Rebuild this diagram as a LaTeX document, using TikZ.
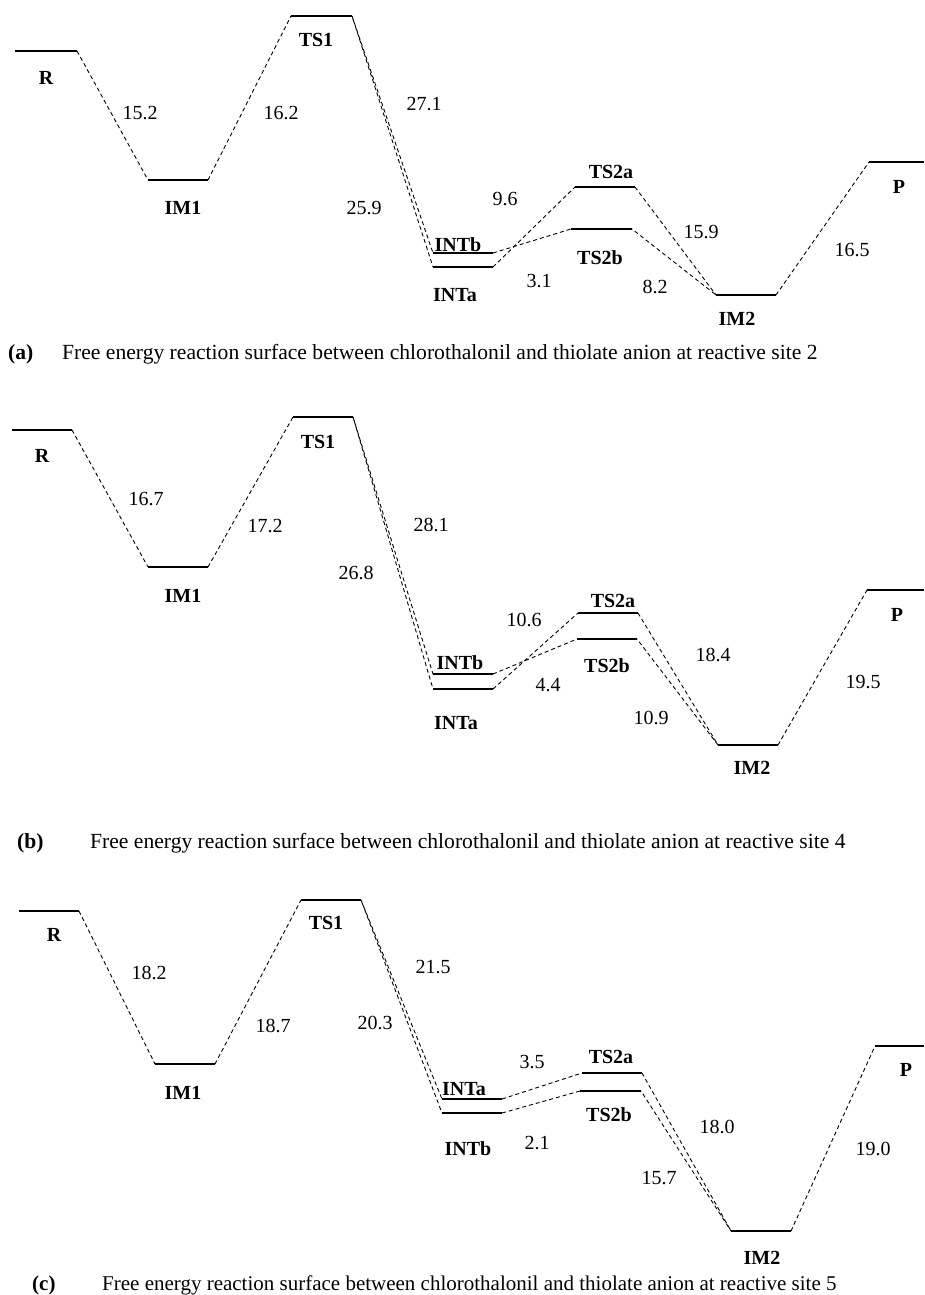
\documentclass[tikz,border=0pt]{standalone}
\usepackage{fontspec}
\setmainfont{Liberation Serif}

% livello energetico: nome, x1, x2, y
\newcommand{\livello}[4]{%
  \coordinate (#1-l) at (#2,#4);
  \coordinate (#1-r) at (#3,#4);
  \draw[livello] (#1-l) -- (#1-r);}

\begin{document}
\begin{tikzpicture}[x=1pt, y=-1pt,
    livello/.style={line width=1.1pt},
    tratto/.style={line width=0.9pt, dash pattern=on 4pt off 3pt},
    tratto2/.style={tratto, dash phase=3.5pt},
    stato/.style={font=\fontsize{20}{24}\selectfont\bfseries, inner sep=0pt},
    valore/.style={font=\fontsize{20}{24}\selectfont, inner sep=0pt},
    didascalia/.style={font=\fontsize{21.6}{26}\selectfont, inner sep=0pt, anchor=base west},
    lettera/.style={didascalia, font=\fontsize{21.6}{26}\selectfont\bfseries}]
    \useasboundingbox (0,0) rectangle (924,1295);

    % ---------- (a) sito 2 ----------
    % Livelli
    \livello{aR}{15}{77}{51}
    \livello{aIM1}{148}{208}{180}
    \livello{aTS1}{291}{352}{16}
    \livello{aINTb}{433}{493}{253}
    \livello{aINTa}{433}{493}{267}
    \livello{aTS2a}{575}{635}{187}
    \livello{aTS2b}{571}{632}{229}
    \livello{aIM2}{716}{776}{295}
    \livello{aP}{869}{924}{162}

    % Collegamenti
    \draw[tratto] (aR-r) -- (aIM1-l);
    \draw[tratto] (aIM1-r) -- (aTS1-l);
    \draw[tratto] (aTS1-r) -- (aINTb-l);
    \draw[tratto2] (aTS1-r) -- (aINTa-l);
    \draw[tratto] (aINTa-r) -- (aTS2a-l);
    \draw[tratto] (aINTb-r) -- (aTS2b-l);
    \draw[tratto] (aTS2a-r) -- (aIM2-l);
    \draw[tratto2] (aTS2b-r) -- (aIM2-l);
    \draw[tratto] (aIM2-r) -- (aP-l);

    % Etichette
    \node[stato] (aRt) at (46,78) {R};
    \node[stato] (aIM1t) at (183,208) {IM1};
    \node[stato] (aTS1t) at (316,40) {TS1};
    \node[stato] (aINTbt) at (458,245) {INTb};
    \node[stato] (aINTat) at (455,295) {INTa};
    \node[stato] (aTS2at) at (611,172) {TS2a};
    \node[stato] (aTS2bt) at (600,258) {TS2b};
    \node[stato] (aIM2t) at (737,319) {IM2};
    \node[stato] (aPt) at (899,187) {P};

    % Barriere
    \node[valore] (a1) at (140,113) {15.2};
    \node[valore] (a2) at (281,113) {16.2};
    \node[valore] (a3) at (424,104) {27.1};
    \node[valore] (a4) at (364,208) {25.9};
    \node[valore] (a5) at (505,199) {9.6};
    \node[valore] (a6) at (539,281) {3.1};
    \node[valore] (a7) at (701,232) {15.9};
    \node[valore] (a8) at (655,287) {8.2};
    \node[valore] (a9) at (852,250) {16.5};

    \node[lettera] (acap) at (8,359) {(a)};
    \node[didascalia] (atesto) at (62,359) {Free energy reaction surface between chlorothalonil and thiolate anion at reactive site 2};

    % ---------- (b) sito 4 ----------
    \livello{bR}{12}{72}{430}
    \livello{bIM1}{148}{208}{567}
    \livello{bTS1}{293}{353}{417}
    \livello{bINTb}{433}{493}{674}
    \livello{bINTa}{433}{493}{689}
    \livello{bTS2a}{578}{638}{613}
    \livello{bTS2b}{577}{637}{639}
    \livello{bIM2}{718}{778}{745}
    \livello{bP}{867}{924}{590}

    \draw[tratto] (bR-r) -- (bIM1-l);
    \draw[tratto] (bIM1-r) -- (bTS1-l);
    \draw[tratto] (bTS1-r) -- (bINTb-l);
    \draw[tratto2] (bTS1-r) -- (bINTa-l);
    \draw[tratto] (bINTa-r) -- (bTS2a-l);
    \draw[tratto] (bINTb-r) -- (bTS2b-l);
    \draw[tratto] (bTS2a-r) -- (bIM2-l);
    \draw[tratto2] (bTS2b-r) -- (bIM2-l);
    \draw[tratto] (bIM2-r) -- (bP-l);

    \node[stato] (bRt) at (42,456) {R};
    \node[stato] (bIM1t) at (183,596) {IM1};
    \node[stato] (bTS1t) at (318,442) {TS1};
    \node[stato] (bINTbt) at (460,663) {INTb};
    \node[stato] (bINTat) at (456,723) {INTa};
    \node[stato] (bTS2at) at (613,601) {TS2a};
    \node[stato] (bTS2bt) at (607,666) {TS2b};
    \node[stato] (bIM2t) at (752,768) {IM2};
    \node[stato] (bPt) at (897,615) {P};

    \node[valore] (b1) at (146,499) {16.7};
    \node[valore] (b2) at (265,526) {17.2};
    \node[valore] (b3) at (431,525) {28.1};
    \node[valore] (b4) at (356,573) {26.8};
    \node[valore] (b5) at (524,620) {10.6};
    \node[valore] (b6) at (548,685) {4.4};
    \node[valore] (b7) at (713,655) {18.4};
    \node[valore] (b8) at (651,718) {10.9};
    \node[valore] (b9) at (863,682) {19.5};

    \node[lettera] (bcap) at (17,848) {(b)};
    \node[didascalia] (btesto) at (90,848) {Free energy reaction surface between chlorothalonil and thiolate anion at reactive site 4};

    % ---------- (c) sito 5 ----------
    \livello{cR}{19}{79}{911}
    \livello{cIM1}{155}{215}{1064}
    \livello{cTS1}{301}{361}{900}
    \livello{cINTa}{442}{502}{1099}
    \livello{cINTb}{442}{502}{1113}
    \livello{cTS2a}{582}{642}{1073}
    \livello{cTS2b}{580}{641}{1091}
    \livello{cIM2}{731}{791}{1231}
    \livello{cP}{875}{924}{1046}

    \draw[tratto] (cR-r) -- (cIM1-l);
    \draw[tratto] (cIM1-r) -- (cTS1-l);
    \draw[tratto] (cTS1-r) -- (cINTa-l);
    \draw[tratto2] (cTS1-r) -- (cINTb-l);
    \draw[tratto] (cINTa-r) -- (cTS2a-l);
    \draw[tratto] (cINTb-r) -- (cTS2b-l);
    \draw[tratto] (cTS2a-r) -- (cIM2-l);
    \draw[tratto2] (cTS2b-r) -- (cIM2-l);
    \draw[tratto] (cIM2-r) -- (cP-l);

    \node[stato] (cRt) at (54,935) {R};
    \node[stato] (cIM1t) at (183,1093) {IM1};
    \node[stato] (cTS1t) at (326,923) {TS1};
    \node[stato] (cINTat) at (464,1089) {INTa};
    \node[stato] (cINTbt) at (468,1149) {INTb};
    \node[stato] (cTS2at) at (611,1057) {TS2a};
    \node[stato] (cTS2bt) at (609,1115) {TS2b};
    \node[stato] (cIM2t) at (762,1258) {IM2};
    \node[stato] (cPt) at (906,1070) {P};

    \node[valore] (c1) at (149,973) {18.2};
    \node[valore] (c2) at (273,1026) {18.7};
    \node[valore] (c3) at (433,967) {21.5};
    \node[valore] (c4) at (375,1023) {20.3};
    \node[valore] (c5) at (532,1062) {3.5};
    \node[valore] (c6) at (537,1143) {2.1};
    \node[valore] (c7) at (717,1127) {18.0};
    \node[valore] (c8) at (659,1178) {15.7};
    \node[valore] (c9) at (873,1149) {19.0};

    \node[lettera, font=\fontsize{21}{25}\selectfont\bfseries] (ccap) at (32,1290) {(c)};
    \node[didascalia, font=\fontsize{21}{25}\selectfont] (ctesto) at (102,1290) {Free energy reaction surface between chlorothalonil and thiolate anion at reactive site 5};
\end{tikzpicture}
\end{document}
